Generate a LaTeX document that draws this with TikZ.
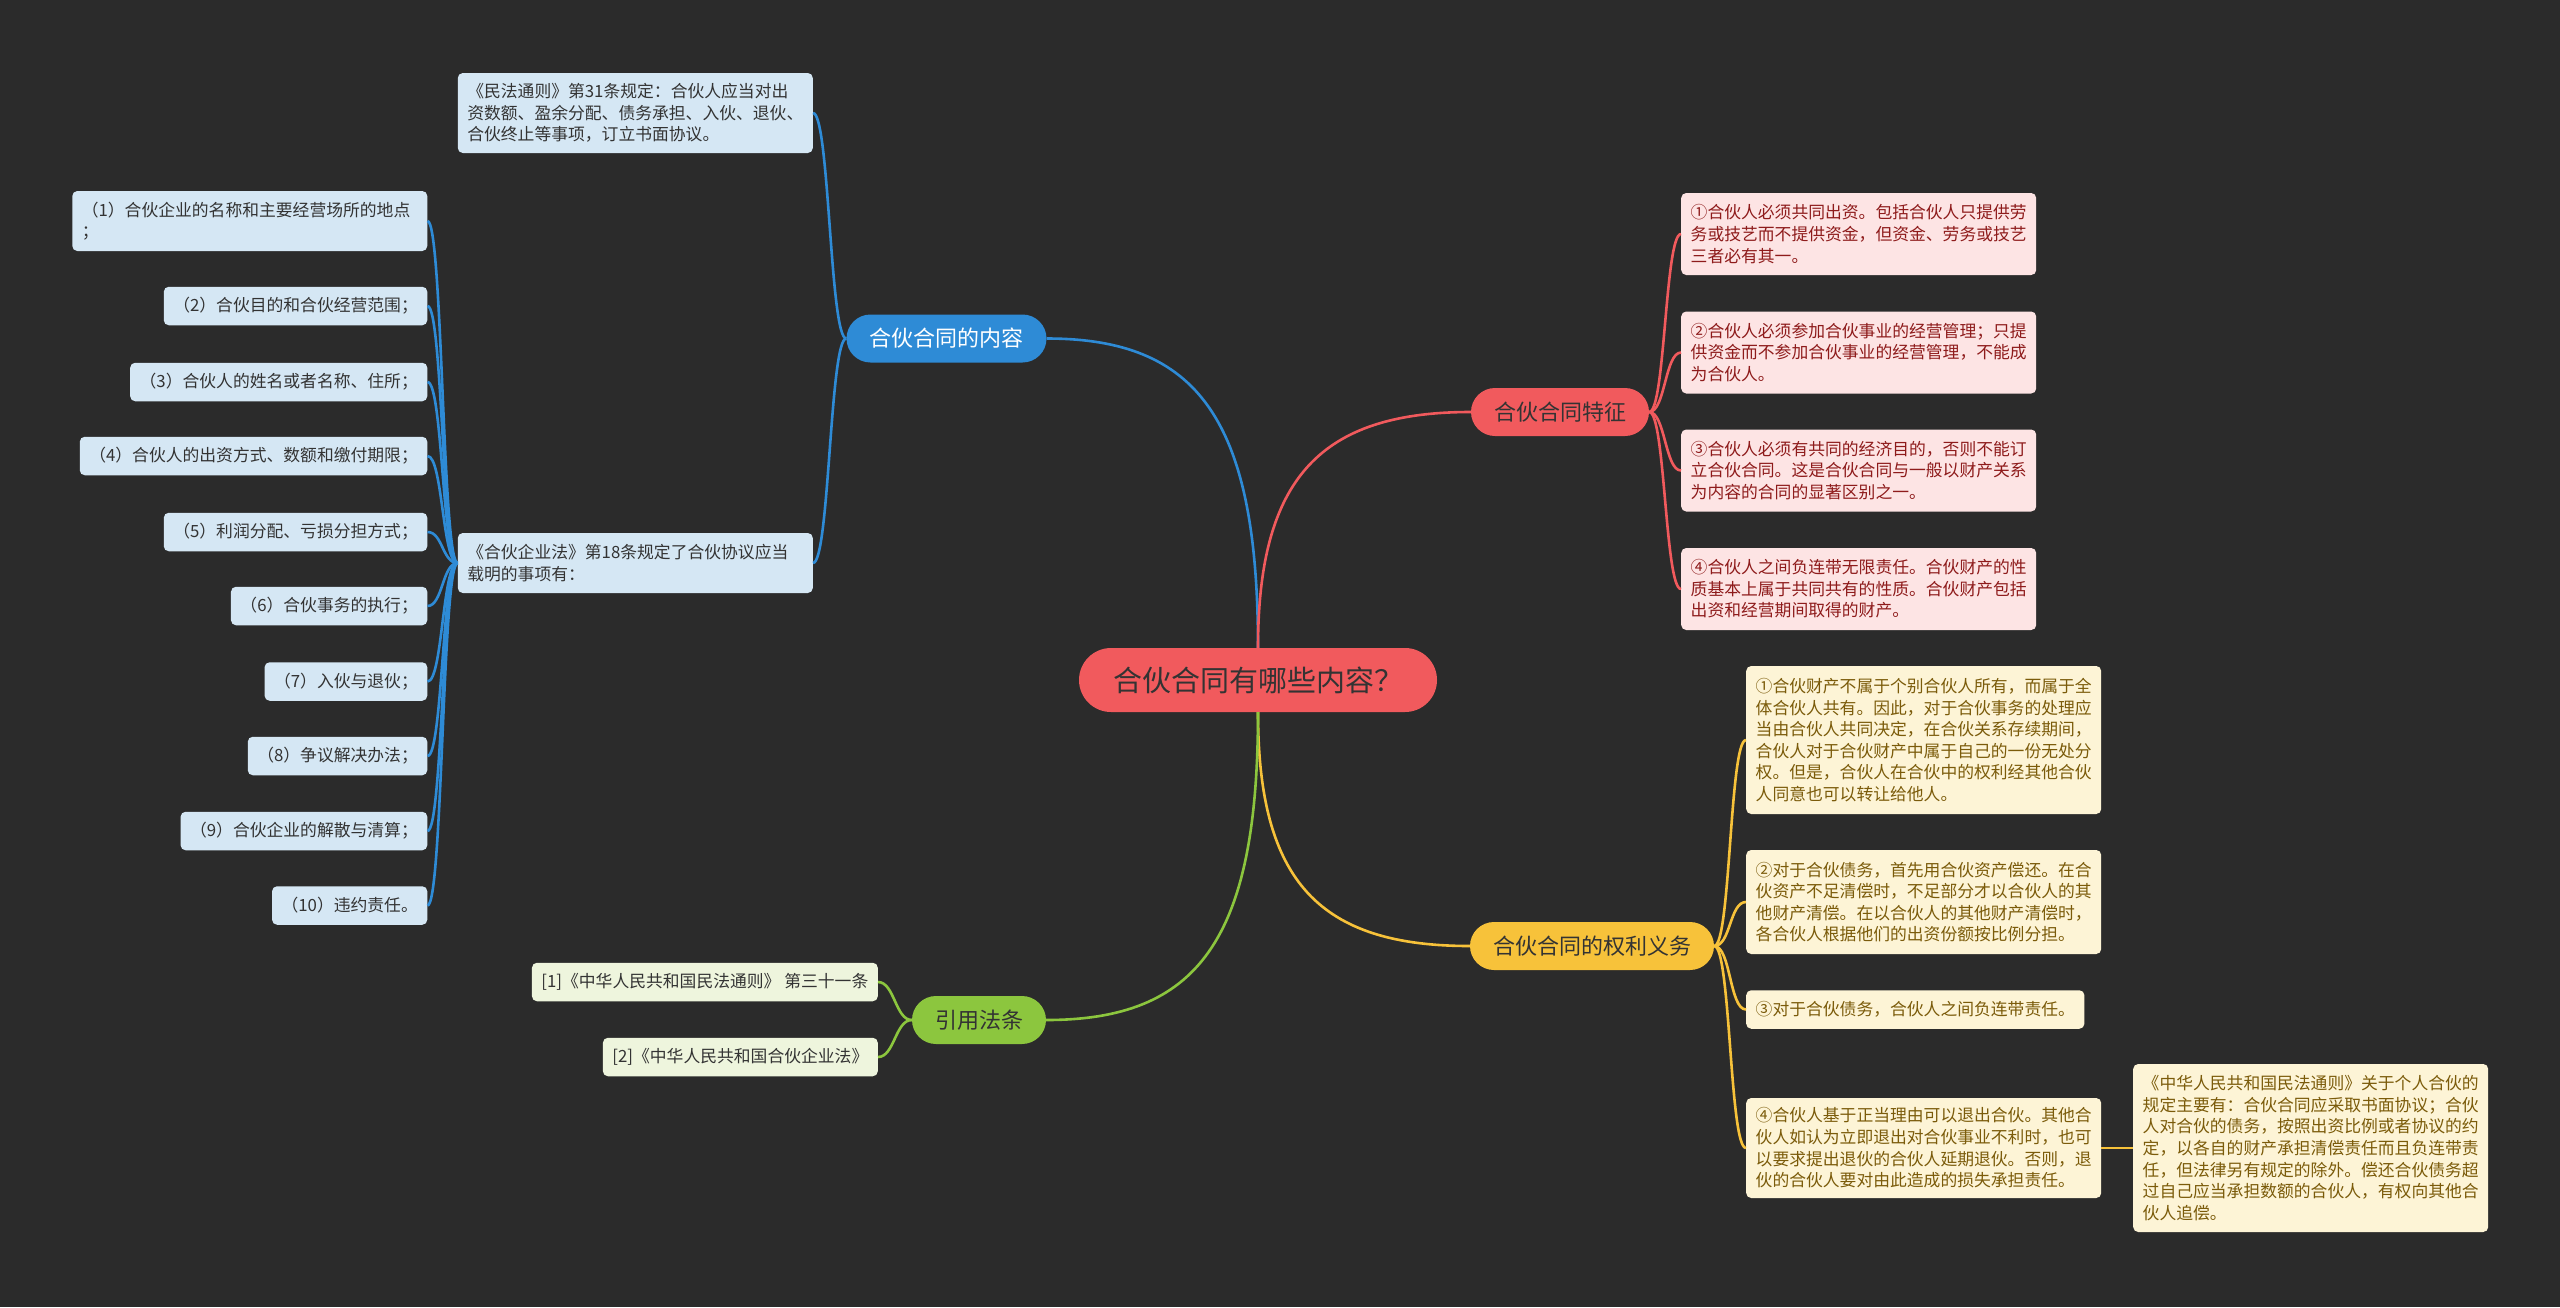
\documentclass[tikz,border=0pt]{standalone}
\usepackage{fontspec}
\setmainfont{Noto Sans CJK SC}
\definecolor{bgdark}{HTML}{2B2B2B}
\definecolor{rootred}{HTML}{F15A5D}
\definecolor{blueb}{HTML}{2E8BD6}
\definecolor{redb}{HTML}{F15A5D}
\definecolor{yellowb}{HTML}{F7C23A}
\definecolor{greenb}{HTML}{8CC63E}
\definecolor{blueleaf}{HTML}{D5E7F4}
\definecolor{redleaf}{HTML}{FDE4E4}
\definecolor{yellowleaf}{HTML}{FDF4D6}
\definecolor{greenleaf}{HTML}{EEF5DD}
\definecolor{darktext}{HTML}{333333}
\definecolor{redtext}{HTML}{8E1B1B}
\definecolor{yellowtext}{HTML}{7B5B0A}
\tikzset{
  leaf/.style={rounded corners=5pt, inner xsep=9.5pt, inner ysep=3pt,
    minimum height=38.5pt, font=\fontsize{16.8}{21.6}\selectfont, align=left},
  blueleafbox/.style={leaf, fill=blueleaf, text=darktext},
  redleafbox/.style={leaf, fill=redleaf, text=redtext},
  yellowleafbox/.style={leaf, fill=yellowleaf, text=yellowtext},
  greenleafbox/.style={leaf, fill=greenleaf, text=darktext},
  branch/.style={rounded corners=24pt, inner xsep=23pt, minimum height=48pt,
    font=\fontsize{22}{26}\selectfont},
  blueline/.style={draw=blueb, line width=2.6pt},
  redline/.style={draw=redb, line width=2.6pt},
  yellowline/.style={draw=yellowb, line width=2.6pt},
  greenline/.style={draw=greenb, line width=2.6pt}
}
\begin{document}
\begin{tikzpicture}[x=1pt, y=-1pt]
    \useasboundingbox (0,0) rectangle (2560,1307);
    \fill[bgdark] (0,0) rectangle (2560,1307);

    % Zentrum
    \node[rounded corners=32pt, fill=rootred, text=darktext, minimum width=358pt, minimum height=64pt,
      font=\fontsize{29}{34}\selectfont] (root) at (1258, 680) {合伙合同有哪些内容？};

    % Hauptzweige
    \node[branch, fill=blueb, text=white] (neirong) at (946.5, 338.5) {合伙合同的内容};
    \node[branch, fill=redb, text=darktext] (tezheng) at (1560, 412) {合伙合同特征};
    \node[branch, fill=yellowb, text=darktext] (quanli) at (1592, 946) {合伙合同的权利义务};
    \node[branch, fill=greenb, text=darktext] (fatiao) at (979, 1020) {引用法条};

    % Inhalt (links)
    \node[blueleafbox, anchor=east, text width=336pt, minimum height=80pt] (mftz) at (813, 113)
      {《民法通则》第31条规定：合伙人应当对出\\资数额、盈余分配、债务承担、入伙、退伙、\\合伙终止等事项，订立书面协议。};
    \node[blueleafbox, anchor=east, text width=336pt, minimum height=60pt] (qyf) at (813, 563)
      {《合伙企业法》第18条规定了合伙协议应当\\载明的事项有：};
    \node[blueleafbox, anchor=east, text width=336pt, minimum height=60pt] (x1) at (427.5, 221)
      {（1）合伙企业的名称和主要经营场所的地点\\；};
    \node[blueleafbox, anchor=east] (x2) at (427.5, 306) {（2）合伙目的和合伙经营范围；};
    \node[blueleafbox, anchor=east] (x3) at (427.5, 382) {（3）合伙人的姓名或者名称、住所；};
    \node[blueleafbox, anchor=east] (x4) at (427.5, 456) {（4）合伙人的出资方式、数额和缴付期限；};
    \node[blueleafbox, anchor=east] (x5) at (427.5, 532) {（5）利润分配、亏损分担方式；};
    \node[blueleafbox, anchor=east] (x6) at (427.5, 606) {（6）合伙事务的执行；};
    \node[blueleafbox, anchor=east] (x7) at (427.5, 681.5) {（7）入伙与退伙；};
    \node[blueleafbox, anchor=east] (x8) at (427.5, 756) {（8）争议解决办法；};
    \node[blueleafbox, anchor=east] (x9) at (427.5, 831) {（9）合伙企业的解散与清算；};
    \node[blueleafbox, anchor=east] (x10) at (427.5, 905.5) {（10）违约责任。};

    % Merkmale (rechts oben)
    \node[redleafbox, anchor=west, text width=336pt, minimum height=82pt] (t1) at (1681, 234)
      {①合伙人必须共同出资。包括合伙人只提供劳\\务或技艺而不提供资金，但资金、劳务或技艺\\三者必有其一。};
    \node[redleafbox, anchor=west, text width=336pt, minimum height=82pt] (t2) at (1681, 352.5)
      {②合伙人必须参加合伙事业的经营管理；只提\\供资金而不参加合伙事业的经营管理，不能成\\为合伙人。};
    \node[redleafbox, anchor=west, text width=336pt, minimum height=82pt] (t3) at (1681, 470.5)
      {③合伙人必须有共同的经济目的，否则不能订\\立合伙合同。这是合伙合同与一般以财产关系\\为内容的合同的显著区别之一。};
    \node[redleafbox, anchor=west, text width=336pt, minimum height=82pt] (t4) at (1681, 589)
      {④合伙人之间负连带无限责任。合伙财产的性\\质基本上属于共同共有的性质。合伙财产包括\\出资和经营期间取得的财产。};

    % Rechte und Pflichten (rechts unten)
    \node[yellowleafbox, anchor=west, text width=336pt, minimum height=148pt] (q1) at (1746, 740)
      {①合伙财产不属于个别合伙人所有，而属于全\\体合伙人共有。因此，对于合伙事务的处理应\\当由合伙人共同决定，在合伙关系存续期间，\\合伙人对于合伙财产中属于自己的一份无处分\\权。但是，合伙人在合伙中的权利经其他合伙\\人同意也可以转让给他人。};
    \node[yellowleafbox, anchor=west, text width=336pt, minimum height=104pt] (q2) at (1746, 902)
      {②对于合伙债务，首先用合伙资产偿还。在合\\伙资产不足清偿时，不足部分才以合伙人的其\\他财产清偿。在以合伙人的其他财产清偿时，\\各合伙人根据他们的出资份额按比例分担。};
    \node[yellowleafbox, anchor=west] (q3) at (1746, 1009.5) {③对于合伙债务，合伙人之间负连带责任。};
    \node[yellowleafbox, anchor=west, text width=336pt, minimum height=100pt] (q4) at (1746, 1148)
      {④合伙人基于正当理由可以退出合伙。其他合\\伙人如认为立即退出对合伙事业不利时，也可\\以要求提出退伙的合伙人延期退伙。否则，退\\伙的合伙人要对由此造成的损失承担责任。};
    \node[yellowleafbox, anchor=west, text width=336pt, minimum height=168pt] (qsub) at (2133, 1148)
      {《中华人民共和国民法通则》关于个人合伙的\\规定主要有：合伙合同应采取书面协议；合伙\\人对合伙的债务，按照出资比例或者协议的约\\定，以各自的财产承担清偿责任而且负连带责\\任，但法律另有规定的除外。偿还合伙债务超\\过自己应当承担数额的合伙人，有权向其他合\\伙人追偿。};

    % Gesetze (links unten)
    \node[greenleafbox, anchor=east] (f1) at (878, 982) {[1]《中华人民共和国民法通则》 第三十一条};
    \node[greenleafbox, anchor=east] (f2) at (878, 1057) {[2]《中华人民共和国合伙企业法》};

    % Verbindungen vom Zentrum
    \draw[blueline] (root.north) .. controls +(0,-230) and +(150,0) .. (neirong.east);
    \draw[redline] (root.north) .. controls +(0,-170) and +(-150,0) .. (tezheng.west);
    \draw[yellowline] (root.south) .. controls +(0,170) and +(-150,0) .. (quanli.west);
    \draw[greenline] (root.south) .. controls +(0,230) and +(150,0) .. (fatiao.east);

    % Verbindungen zu den Blaettern
    \draw[blueline] (neirong.west) .. controls +(-16.5,0) and +(16.5,0) .. (mftz.east);
    \draw[blueline] (neirong.west) .. controls +(-16.5,0) and +(16.5,0) .. (qyf.east);
    \draw[blueline] (qyf.west) .. controls +(-15.25,0) and +(15.25,0) .. (x1.east);
    \draw[blueline] (qyf.west) .. controls +(-15.25,0) and +(15.25,0) .. (x2.east);
    \draw[blueline] (qyf.west) .. controls +(-15.25,0) and +(15.25,0) .. (x3.east);
    \draw[blueline] (qyf.west) .. controls +(-15.25,0) and +(15.25,0) .. (x4.east);
    \draw[blueline] (qyf.west) .. controls +(-15.25,0) and +(15.25,0) .. (x5.east);
    \draw[blueline] (qyf.west) .. controls +(-15.25,0) and +(15.25,0) .. (x6.east);
    \draw[blueline] (qyf.west) .. controls +(-15.25,0) and +(15.25,0) .. (x7.east);
    \draw[blueline] (qyf.west) .. controls +(-15.25,0) and +(15.25,0) .. (x8.east);
    \draw[blueline] (qyf.west) .. controls +(-15.25,0) and +(15.25,0) .. (x9.east);
    \draw[blueline] (qyf.west) .. controls +(-15.25,0) and +(15.25,0) .. (x10.east);

    \draw[redline] (tezheng.east) .. controls +(16,0) and +(-16,0) .. (t1.west);
    \draw[redline] (tezheng.east) .. controls +(16,0) and +(-16,0) .. (t2.west);
    \draw[redline] (tezheng.east) .. controls +(16,0) and +(-16,0) .. (t3.west);
    \draw[redline] (tezheng.east) .. controls +(16,0) and +(-16,0) .. (t4.west);

    \draw[yellowline] (quanli.east) .. controls +(16.5,0) and +(-16.5,0) .. (q1.west);
    \draw[yellowline] (quanli.east) .. controls +(16.5,0) and +(-16.5,0) .. (q2.west);
    \draw[yellowline] (quanli.east) .. controls +(16.5,0) and +(-16.5,0) .. (q3.west);
    \draw[yellowline] (quanli.east) .. controls +(16.5,0) and +(-16.5,0) .. (q4.west);
    \draw[yellowline] (q4.east) -- (qsub.west);

    \draw[greenline] (fatiao.west) .. controls +(-16.5,0) and +(16.5,0) .. (f1.east);
    \draw[greenline] (fatiao.west) .. controls +(-16.5,0) and +(16.5,0) .. (f2.east);
\end{tikzpicture}
\end{document}
